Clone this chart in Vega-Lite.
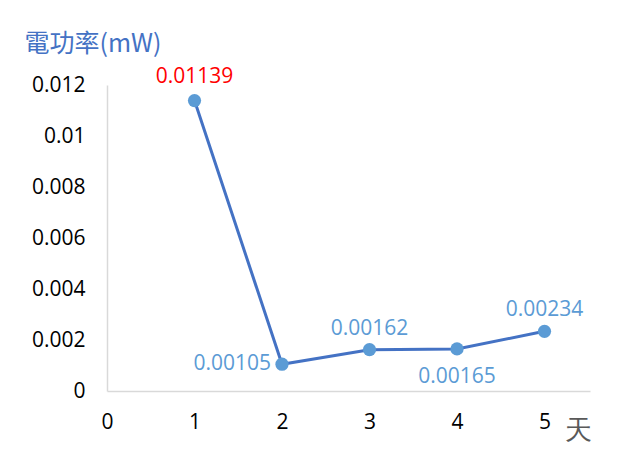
{
  "$schema": "https://vega.github.io/schema/vega-lite/v6.json",
  "width": 483,
  "height": 306,
  "autosize": {"type": "none"},
  "padding": {"left": 107, "top": 85, "right": 47, "bottom": 77},
  "background": "white",
  "config": {"view": {"stroke": null}, "font": "Open Sans"},
  "data": {"values": [
    {"day": 1, "power": 0.01139, "label": "0.01139"},
    {"day": 2, "power": 0.00105, "label": "0.00105"},
    {"day": 3, "power": 0.00162, "label": "0.00162"},
    {"day": 4, "power": 0.00165, "label": "0.00165"},
    {"day": 5, "power": 0.00234, "label": "0.00234"}
  ]},
  "encoding": {
    "x": {"field": "day", "type": "quantitative",
      "scale": {"domain": [0, 5.52], "nice": false, "zero": true},
      "axis": {"values": [0, 1, 2, 3, 4, 5], "grid": false, "ticks": false, "domainColor": "#d9d9d9", "domainWidth": 1.5,
        "labelFont": "Open Sans", "labelFontSize": 21, "labelColor": "#000000", "labelPadding": 20, "labelFlush": false,
        "title": "天", "titleFont": "DejaVu Serif", "titleFontWeight": "normal", "titleFontSize": 27, "titleColor": "#595959",
        "titleX": 471, "titleY": 47, "titleAlign": "center", "titleBaseline": "alphabetic"}},
    "y": {"field": "power", "type": "quantitative",
      "scale": {"domain": [0, 0.012], "nice": false},
      "axis": {"values": [0, 0.002, 0.004, 0.006, 0.008, 0.01, 0.012], "format": "~g", "grid": false, "ticks": false,
        "domainColor": "#d9d9d9", "domainWidth": 1.5,
        "labelFont": "Open Sans", "labelFontSize": 21, "labelColor": "#000000", "labelPadding": 22,
        "title": "電功率(mW)", "titleFont": "Noto Sans CJK TC", "titleFontWeight": "normal", "titleFontSize": 25, "titleColor": "#4472C4",
        "titleAngle": 0, "titleX": -83, "titleY": -34, "titleAlign": "left", "titleBaseline": "alphabetic"}}
  },
  "layer": [
    {"mark": {"type": "line", "color": "#4472C4", "strokeWidth": 3}},
    {"mark": {"type": "point", "filled": true, "opacity": 1, "color": "#5B9BD5", "size": 175}},
    {"transform": [{"filter": "datum.day == 1"}],
     "mark": {"type": "text", "color": "#FF0000", "fontSize": 21, "font": "Open Sans", "dy": -24},
     "encoding": {"text": {"field": "label"}}},
    {"transform": [{"filter": "datum.day == 2"}],
     "mark": {"type": "text", "color": "#5B9BD5", "fontSize": 21, "font": "Open Sans", "align": "right", "dx": -11},
     "encoding": {"text": {"field": "label"}}},
    {"transform": [{"filter": "datum.day == 3 || datum.day == 5"}],
     "mark": {"type": "text", "color": "#5B9BD5", "fontSize": 21, "font": "Open Sans", "dy": -21},
     "encoding": {"text": {"field": "label"}}},
    {"transform": [{"filter": "datum.day == 4"}],
     "mark": {"type": "text", "color": "#5B9BD5", "fontSize": 21, "font": "Open Sans", "dy": 28},
     "encoding": {"text": {"field": "label"}}}
  ]
}
